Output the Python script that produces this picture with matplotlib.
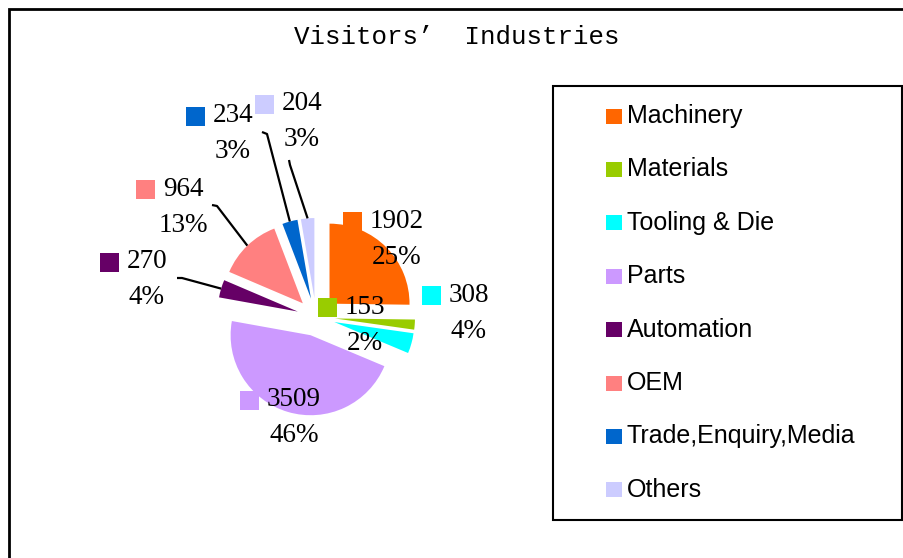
import numpy as np
import matplotlib
matplotlib.use("Agg")
import matplotlib.pyplot as plt
from matplotlib.patches import Rectangle

# figure size in pixels
W, H = 904, 558

# data
categories = ['Machinery', 'Materials', 'Tooling & Die', 'Parts',
              'Automation', 'OEM', 'Trade,Enquiry,Media', 'Others']
visitors = [1902, 153, 308, 3509, 270, 964, 234, 204]
percents = [25, 2, 4, 46, 4, 13, 3, 3]
colors = ['#FF6600', '#99CC00', '#00FFFF', '#CC99FF',
          '#660066', '#FF8080', '#0066CC', '#CCCCFF']

# layout (pixels from top-left): centre of the value text of each label
label_pos = [(397, 221), (365, 307), (469, 295), (294, 400),
             (147, 262), (183, 189), (233, 116), (302, 104)]
# leader line start points for the labels that have one
leader_start = {4: [(177, 278), (182, 278)],
                5: [(212, 205), (217, 206)],
                6: [(262, 132), (267, 134)],
                7: [(289, 160), (290, 165)]}


def fy(y):
    # image y (from top) -> data y (from bottom)
    return H - y


fig = plt.figure(figsize=(W / 100, H / 100), dpi=100)
ax = fig.add_axes([0, 0, 1, 1])

wedges, _ = ax.pie(visitors, colors=colors, startangle=90, counterclock=False,
                   radius=80, center=(316, fy(317)), explode=[19] * len(visitors),
                   wedgeprops=dict(linewidth=0))
ax.set_aspect('auto')
ax.set_xlim(0, W)
ax.set_ylim(0, H)
ax.axis('off')

# data labels: colour key + value, percent underneath
renderer = fig.canvas.get_renderer()
for i, (w, v, p) in enumerate(zip(wedges, visitors, percents)):
    x, y = label_pos[i]
    t = ax.text(x, fy(y), str(v), ha='center', va='center', fontsize=19.5,
                family='Liberation Serif', color='black')
    ax.text(x, fy(y + 36), f'{p}%', ha='center', va='center', fontsize=19.5,
            family='Liberation Serif', color='black')
    bb = t.get_window_extent(renderer)
    ax.add_patch(Rectangle((bb.x0 - 8 - 19, fy(y) - 9.5), 19, 19,
                           facecolor=colors[i], edgecolor='none'))
    if i in leader_start:
        th = np.deg2rad((w.theta1 + w.theta2) / 2)
        ex = w.center[0] + w.r * np.cos(th)
        ey = w.center[1] + w.r * np.sin(th)
        pts = leader_start[i]
        xs = [pts[0][0], pts[1][0], ex]
        ys = [fy(pts[0][1]), fy(pts[1][1]), ey]
        ax.plot(xs, ys, color='black', lw=1.6, solid_capstyle='butt')

# title
ax.text(457, fy(37), 'Visitors’  Industries', ha='center', va='center',
        fontsize=18.6, family='Liberation Mono', color='black')

# legend box drawn by hand
ax.add_patch(Rectangle((553, fy(520)), 349, 434, fill=False,
                       edgecolor='black', lw=1.5))
for i, (name, c) in enumerate(zip(categories, colors)):
    yy = 116 + i * 53.4
    ax.add_patch(Rectangle((606, fy(yy) - 7.5), 16, 15, facecolor=c, edgecolor='none'))
    ax.text(627, fy(yy), name, ha='left', va='center', fontsize=18,
            family='Liberation Sans', color='black')

# outer chart border (runs off the right and bottom edges)
ax.add_patch(Rectangle((9, -20), W + 20, fy(9) + 20, fill=False,
                       edgecolor='black', lw=2, clip_on=False))

fig.savefig('out.png', dpi=100)
